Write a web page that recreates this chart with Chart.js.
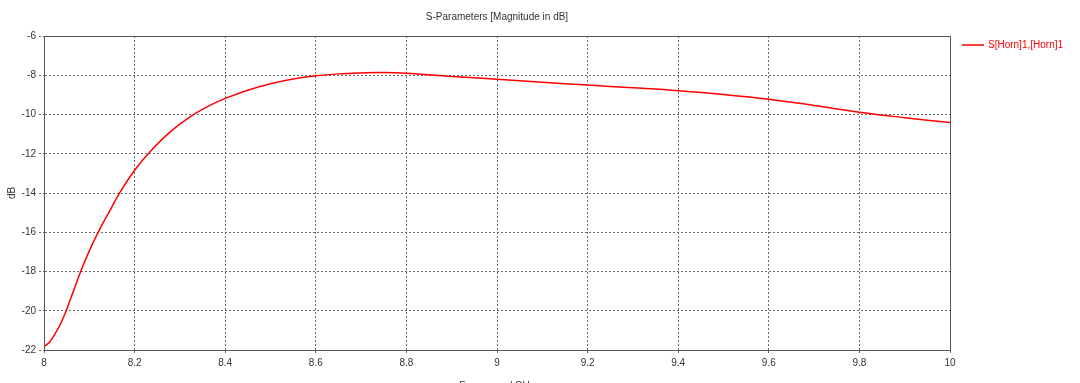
<!DOCTYPE html>
<html>
<head>
<meta charset="utf-8">
<script src="https://cdn.jsdelivr.net/npm/chart.js@4.4.1/dist/chart.umd.min.js"></script>
<style>
  html, body { margin: 0; padding: 0; background: #ffffff; }
  #wrap { position: relative; width: 1080px; height: 383px; }
</style>
</head>
<body>
<div id="wrap"><canvas id="c" width="1080" height="383"></canvas></div>
<script>
const chartTitle = "S-Parameters [Magnitude in dB]";
const seriesName = "S[Horn]1,[Horn]1";
const xTitle = "Frequency / GHz";
const yTitle = "dB";

const freqGHz = [8.000, 8.012, 8.025, 8.037, 8.049, 8.065, 8.081, 8.100, 8.120, 8.143,
                 8.166, 8.200, 8.233, 8.280, 8.330, 8.365, 8.400, 8.450, 8.500, 8.550,
                 8.600, 8.650, 8.700, 8.750, 8.800, 8.900, 9.000, 9.100, 9.200, 9.300,
                 9.400, 9.500, 9.600, 9.700, 9.800, 9.900, 10.000];
const s11dB = [-21.83, -21.6, -21.15, -20.65, -20.0, -19.0, -18.0, -16.95, -15.98, -15.0,
               -14.03, -12.84, -11.92, -10.86, -10.01, -9.55, -9.18, -8.76, -8.43, -8.19,
               -8.03, -7.93, -7.88, -7.86, -7.9, -8.06, -8.2, -8.36, -8.5, -8.64,
               -8.79, -8.98, -9.22, -9.54, -9.88, -10.16, -10.41];

const xMin = 8, xMax = 10, xStep = 0.2;
const yMin = -22, yMax = -6, yStep = 2;

const FONT = "'Liberation Sans', Arial, sans-serif";
const TEXT = '#333333';
const AXIS = '#555555';
const GRID = '#6a6a6a';
const RED = '#ff0000';

const overlay = {
  id: 'overlay',
  afterDatasetsDraw(chart) {
    const ctx = chart.ctx, a = chart.chartArea;
    ctx.save();
    ctx.strokeStyle = AXIS;
    ctx.lineWidth = 1;
    ctx.setLineDash([]);
    ctx.strokeRect(Math.round(a.left) + 0.5, Math.round(a.top) + 0.5,
                   Math.round(a.right - a.left), Math.round(a.bottom - a.top));
    ctx.fillStyle = TEXT;
    ctx.font = '10px ' + FONT;
    ctx.textAlign = 'center';
    ctx.textBaseline = 'middle';
    ctx.fillText(chartTitle, (a.left + a.right) / 2, 17);
    ctx.strokeStyle = RED;
    ctx.lineWidth = 1.5;
    ctx.beginPath();
    ctx.moveTo(962, 45);
    ctx.lineTo(984, 45);
    ctx.stroke();
    ctx.fillStyle = RED;
    ctx.textAlign = 'left';
    ctx.fillText(seriesName, 988, 45);
    ctx.restore();
  }
};

new Chart(document.getElementById('c'), {
  type: 'line',
  data: {
    datasets: [{
      label: seriesName,
      data: freqGHz.map((f, i) => ({ x: f, y: s11dB[i] })),
      borderColor: RED,
      borderWidth: 1.5,
      pointRadius: 0,
      fill: false,
      tension: 0.4
    }]
  },
  options: {
    responsive: false,
    animation: false,
    devicePixelRatio: 1,
    layout: { padding: { top: 36, right: 130, left: 0, bottom: 0 } },
    plugins: {
      legend: { display: false },
      title: { display: false },
      tooltip: { enabled: false }
    },
    scales: {
      x: {
        type: 'linear',
        min: xMin, max: xMax,
        afterFit(s) { s.height = 33; },
        ticks: {
          stepSize: xStep,
          color: TEXT,
          font: { family: FONT, size: 10 },
          padding: 3,
          maxRotation: 0,
          callback: v => Number(v.toFixed(1)).toString()
        },
        grid: {
          color: GRID, lineWidth: 1,
          tickBorderDash: [2, 2],
          tickLength: 4, tickColor: GRID
        },
        border: { display: true, color: AXIS, width: 1, dash: [2, 2] },
        title: {
          display: true, text: xTitle, color: TEXT,
          font: { family: FONT, size: 10 },
          padding: { top: 0, bottom: -9 }
        }
      },
      y: {
        type: 'linear',
        min: yMin, max: yMax,
        afterFit(s) { s.width = 44; },
        ticks: {
          stepSize: yStep,
          color: TEXT,
          font: { family: FONT, size: 10 },
          padding: 3
        },
        grid: {
          color: GRID, lineWidth: 1,
          tickBorderDash: [2, 2],
          tickLength: 5, tickColor: GRID
        },
        border: { display: true, color: AXIS, width: 1, dash: [2, 2] },
        title: {
          display: true, text: yTitle, color: TEXT,
          font: { family: FONT, size: 10 },
          padding: { top: 6, bottom: 0 }
        }
      }
    }
  },
  plugins: [overlay]
});
</script>
</body>
</html>
